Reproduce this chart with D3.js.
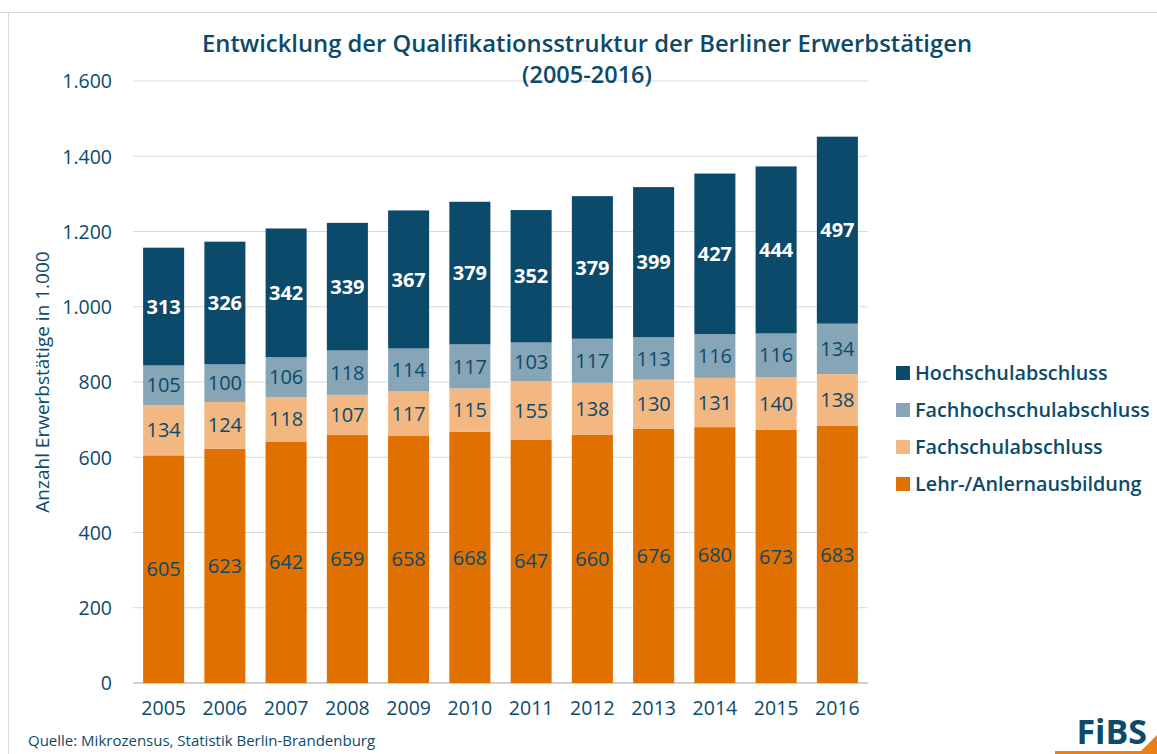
<!DOCTYPE html>
<html><head><meta charset="utf-8">
<script src="https://cdn.jsdelivr.net/npm/d3@7"></script>
<style>body{margin:0;background:#fff;}svg{display:block;font-family:"Open Sans","Noto Sans",sans-serif;}</style>
</head><body>
<svg id="c" width="1157" height="754"></svg>
<script>
const years = ["2005","2006","2007","2008","2009","2010","2011","2012","2013","2014","2015","2016"];
const lehr = [605,623,642,659,658,668,647,660,676,680,673,683];
const fachschul = [134,124,118,107,117,115,155,138,130,131,140,138];
const fachhoch = [105,100,106,118,114,117,103,117,113,116,116,134];
const hoch = [313,326,342,339,367,379,352,379,399,427,444,497];
const seriesNames = ["Lehr-/Anlernausbildung","Fachschulabschluss","Fachhochschulabschluss","Hochschulabschluss"];
const seriesColors = ["#e07000","#f3b882","#86a5b7","#0c4a6b"];
const labelColors = ["#0c4a6b","#0c4a6b","#0c4a6b","#ffffff"];
const yTicks = [0,200,400,600,800,1000,1200,1400,1600];

const txt = "#0c4a6b";
const svg = d3.select("#c");
// frame lines
svg.append("line").attr("x1",0).attr("x2",1157).attr("y1",12.5).attr("y2",12.5).attr("stroke","#d9d9d9");
svg.append("line").attr("x1",8.5).attr("x2",8.5).attr("y1",12).attr("y2",754).attr("stroke","#d9d9d9");

const x = d3.scaleBand().domain(years).range([133,868]).paddingInner(0.33).paddingOuter(0.165);
const y = d3.scaleLinear().domain([0,1600]).range([683,81]);

// grid
svg.append("g").selectAll("line").data(yTicks).join("line")
  .attr("x1",133).attr("x2",868).attr("y1",d=>y(d)).attr("y2",d=>y(d))
  .attr("stroke",d=>d===0?"#d0d0d0":"#d9d9d9").attr("stroke-width",d=>d===0?2:1.2);

const fmt = d3.formatLocale({decimal:",",thousands:".",grouping:[3],currency:["","€"]}).format(",");
const yAxis = svg.append("g").attr("transform","translate(133,0)").call(d3.axisLeft(y).tickValues(yTicks).tickSize(0).tickPadding(21).tickFormat(fmt));
yAxis.select(".domain").remove();
yAxis.selectAll("text").attr("fill",txt).style("font-size","19.5px").style("font-weight","500").style("font-family","'Open Sans',sans-serif").attr("dy","0.35em");

const xAxis = svg.append("g").attr("transform","translate(0,683)").call(d3.axisBottom(x).tickSize(0).tickPadding(18));
xAxis.select(".domain").remove();
xAxis.selectAll("text").attr("fill",txt).style("font-size","19.5px").style("font-weight","500").style("font-family","'Open Sans',sans-serif").attr("dy","0.71em");

const data = years.map((yr,i)=>({year:yr, s0:lehr[i], s1:fachschul[i], s2:fachhoch[i], s3:hoch[i]}));
const stack = d3.stack().keys(["s0","s1","s2","s3"])(data);

const g = svg.append("g");
stack.forEach((layer,k)=>{
  g.append("g").selectAll("rect").data(layer).join("rect")
    .attr("x",d=>x(d.data.year)).attr("width",x.bandwidth())
    .attr("y",d=>y(d[1])).attr("height",d=>y(d[0])-y(d[1]))
    .attr("fill",seriesColors[k]);
  g.append("g").selectAll("text").data(layer).join("text")
    .attr("x",d=>x(d.data.year)+x.bandwidth()/2)
    .attr("y",d=>(y(d[0])+y(d[1]))/2)
    .attr("dy","0.36em").attr("text-anchor","middle")
    .attr("fill",labelColors[k])
    .style("font-size","20px").style("font-weight",k===3?"700":"400")
    .text(d=>d[1]-d[0]);
});

// title
svg.append("text").attr("x",587).attr("y",52).attr("text-anchor","middle").attr("fill",txt)
  .style("font-size","23px").style("font-weight","600").attr("textLength",770).attr("lengthAdjust","spacingAndGlyphs")
  .text("Entwicklung der Qualifikationsstruktur  der Berliner Erwerbstätigen");
svg.append("text").attr("x",587).attr("y",83).attr("text-anchor","middle").attr("fill",txt)
  .style("font-size","23.5px").style("font-weight","600")
  .text("(2005-2016)");

// y title
svg.append("text").attr("transform","translate(49,382) rotate(-90)").attr("text-anchor","middle").attr("fill",txt)
  .style("font-size","19px").style("font-weight","500").text("Anzahl Erwerbstätige in 1.000");

// legend
const legOrder = [3,2,1,0];
const leg = svg.append("g");
legOrder.forEach((k,i)=>{
  const yy = 373 + i*37;
  leg.append("rect").attr("x",896).attr("y",yy-7).attr("width",14).attr("height",14).attr("fill",seriesColors[k]);
  leg.append("text").attr("x",915).attr("y",yy).attr("dy","0.35em").attr("fill",txt)
    .style("font-size","19.8px").style("font-weight","600").text(seriesNames[k]);
});

// source
svg.append("text").attr("x",28).attr("y",746).attr("fill",txt).style("font-size","15px").text("Quelle: Mikrozensus, Statistik Berlin-Brandenburg");

// logo
svg.append("text").attr("x",1147).attr("y",744).attr("text-anchor","end").attr("fill",txt)
  .style("font-size","34px").style("font-weight","700").text("FiBS");
svg.append("path").attr("d","M1055,754 L1157,754 L1157,735 L1141,751 L1055,751 Z").attr("fill","#e8801a");
</script>
</body></html>
